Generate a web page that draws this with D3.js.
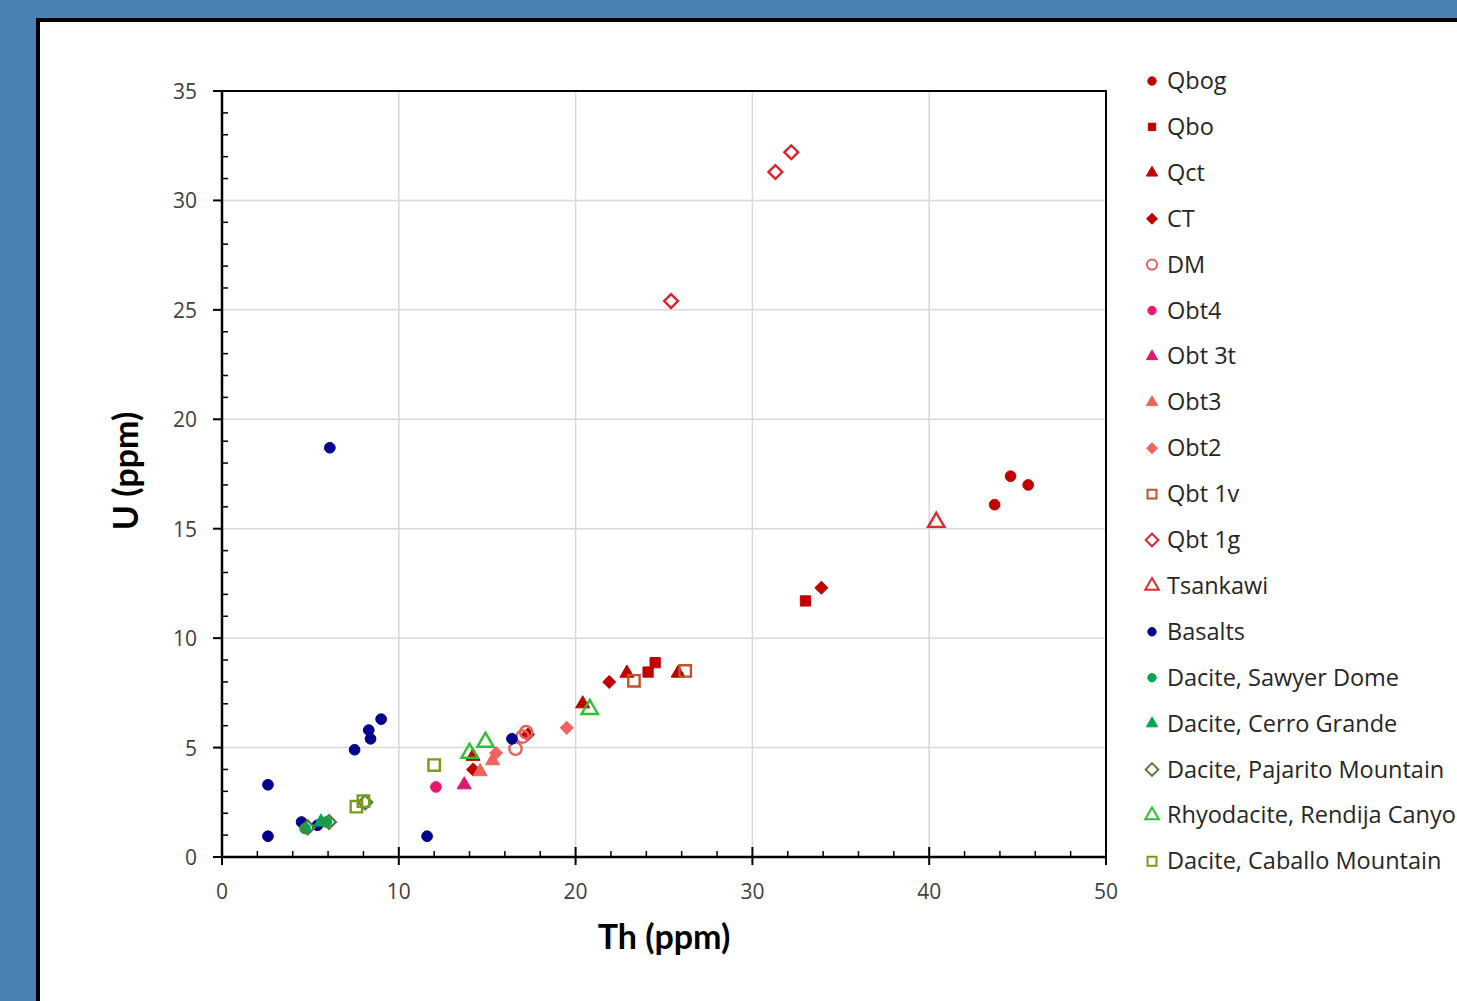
<!DOCTYPE html>
<html>
<head>
<meta charset="utf-8">
<script src="https://cdn.jsdelivr.net/npm/d3@7"></script>
<style>
  body { margin: 0; background: #4a82b3; overflow: hidden; }
  #container { position: absolute; left: 0; top: 0; }
  text { font-family: "Open Sans", Lato, sans-serif; }
</style>
</head>
<body>
<div id="container"></div>
<script>
// values: [Th, U]
var qbog = [[43.7, 16.1], [44.6, 17.4], [45.6, 17.0]];
var qbo = [[33.0, 11.7], [24.1, 8.45], [24.5, 8.88]];
var qct = [[20.4, 7.0], [22.9, 8.4], [25.8, 8.4], [14.2, 4.6]];
var ct = [[33.9, 12.3], [21.9, 8.0], [14.2, 4.0], [17.3, 5.6]];
var dm = [[16.6, 4.95], [17.0, 5.5], [17.2, 5.7]];
var obt4 = [[12.1, 3.2]];
var obt3t = [[13.7, 3.3]];
var obt3 = [[14.6, 3.9], [15.3, 4.4]];
var obt2 = [[19.5, 5.9], [15.5, 4.75]];
var qbt1v = [[23.3, 8.05], [26.2, 8.5]];
var qbt1g = [[31.3, 31.3], [32.2, 32.2], [25.4, 25.4]];
var tsankawi = [[40.4, 15.3]];
var basalts = [[6.1, 18.7], [2.6, 3.3], [2.6, 0.95], [9.0, 6.3], [8.3, 5.8], [8.4, 5.4],
  [7.5, 4.9], [11.6, 0.95], [16.4, 5.4], [4.5, 1.6], [5.4, 1.45]];
var sawyer = [[4.7, 1.3], [5.9, 1.6]];
var cerro = [[5.6, 1.6]];
var pajarito = [[4.85, 1.35], [6.05, 1.6], [8.1, 2.5]];
var rendija = [[14.0, 4.75], [14.9, 5.25], [20.8, 6.75]];
var caballo = [[12.0, 4.2], [7.6, 2.3], [8.0, 2.55]];

var seriesNames = ["Qbog", "Qbo", "Qct", "CT", "DM", "Obt4", "Obt 3t", "Obt3", "Obt2",
  "Qbt 1v", "Qbt 1g", "Tsankawi", "Basalts", "Dacite, Sawyer Dome", "Dacite, Cerro Grande",
  "Dacite, Pajarito Mountain", "Rhyodacite, Rendija Canyon", "Dacite, Caballo Mountain"];
var seriesData = [qbog, qbo, qct, ct, dm, obt4, obt3t, obt3, obt2, qbt1v, qbt1g, tsankawi,
  basalts, sawyer, cerro, pajarito, rendija, caballo];

var xTicks = [0, 10, 20, 30, 40, 50];
var yTicks = [0, 5, 10, 15, 20, 25, 30, 35];

// marker styles: shape, colour, filled?
var styles = [
  {shape: "circle", color: "#c00000", fill: true},
  {shape: "square", color: "#c00000", fill: true},
  {shape: "triangle", color: "#c00000", fill: true},
  {shape: "diamond", color: "#c00000", fill: true},
  {shape: "circle", color: "#e4605e", fill: false},
  {shape: "circle", color: "#e8176f", fill: true},
  {shape: "triangle", color: "#e2186c", fill: true},
  {shape: "triangle", color: "#f0625c", fill: true},
  {shape: "diamond", color: "#f0625c", fill: true},
  {shape: "square", color: "#c0532a", fill: false},
  {shape: "diamond", color: "#e0202c", fill: false},
  {shape: "triangle", color: "#e02a30", fill: false},
  {shape: "circle", color: "#00008c", fill: true},
  {shape: "circle", color: "#00a651", fill: true},
  {shape: "triangle", color: "#00a651", fill: true},
  {shape: "diamond", color: "#55803a", fill: false},
  {shape: "triangle", color: "#2cc42c", fill: false},
  {shape: "square", color: "#7a9a1e", fill: false}
];

var W = 1457, H = 1001;
var margin = {top: 91, left: 222};
var width = 884, height = 766;

var svg = d3.select("#container").append("svg")
  .attr("width", W)
  .attr("height", H);

// white panel with black frame
svg.append("rect")
  .attr("x", 38).attr("y", 20)
  .attr("width", W + 20).attr("height", H + 20)
  .style("fill", "#fff")
  .style("stroke", "#000")
  .style("stroke-width", 4);

var g = svg.append("g")
  .attr("transform", "translate(" + margin.left + "," + margin.top + ")");

var x = d3.scaleLinear().domain([0, 50]).range([0, width]);
var y = d3.scaleLinear().domain([0, 35]).range([height, 0]);

// gridlines
g.selectAll(".vgrid").data(xTicks.slice(1, -1)).enter()
  .append("line")
  .attr("class", "vgrid")
  .attr("x1", d => x(d)).attr("x2", d => x(d))
  .attr("y1", 0).attr("y2", height)
  .style("stroke", "#d9d9d9").style("stroke-width", 1.5);
g.selectAll(".hgrid").data(yTicks.slice(1, -1)).enter()
  .append("line")
  .attr("class", "hgrid")
  .attr("y1", d => y(d)).attr("y2", d => y(d))
  .attr("x1", 0).attr("x2", width)
  .style("stroke", "#d9d9d9").style("stroke-width", 1.5);

// minor ticks (inside)
var xMinor = d3.range(0, 50.01, 2).filter(d => d % 10 !== 0);
var yMinor = d3.range(0, 35.01, 1).filter(d => d % 5 !== 0);
g.selectAll(".xminor").data(xMinor).enter()
  .append("line")
  .attr("x1", d => x(d)).attr("x2", d => x(d))
  .attr("y1", height).attr("y2", height - 6)
  .style("stroke", "#000").style("stroke-width", 1.5);
g.selectAll(".yminor").data(yMinor).enter()
  .append("line")
  .attr("y1", d => y(d)).attr("y2", d => y(d))
  .attr("x1", 0).attr("x2", 6)
  .style("stroke", "#000").style("stroke-width", 1.5);

// major ticks
g.selectAll(".xmajor").data(xTicks).enter()
  .append("line")
  .attr("x1", d => x(d)).attr("x2", d => x(d))
  .attr("y1", height - 10).attr("y2", height + 8)
  .style("stroke", "#000").style("stroke-width", 2);
g.selectAll(".ymajor").data(yTicks).enter()
  .append("line")
  .attr("y1", d => y(d)).attr("y2", d => y(d))
  .attr("x1", -9).attr("x2", 0)
  .style("stroke", "#000").style("stroke-width", 2);

// plot box
g.append("path")
  .attr("d", "M" + x(0) + "," + y(35) + "H" + x(50) + "V" + y(0))
  .style("fill", "none").style("stroke", "#000").style("stroke-width", 2);
g.append("line")
  .attr("x1", 0).attr("x2", 0).attr("y1", 0).attr("y2", height)
  .style("stroke", "#000").style("stroke-width", 2.5);
g.append("line")
  .attr("x1", 0).attr("x2", width).attr("y1", height).attr("y2", height)
  .style("stroke", "#000").style("stroke-width", 2.5);

// tick labels
g.selectAll(".xlab").data(xTicks).enter()
  .append("text")
  .attr("x", d => x(d)).attr("y", height + 42)
  .style("text-anchor", "middle")
  .style("font-size", "21px").style("fill", "#404040")
  .text(d => d);
g.selectAll(".ylab").data(yTicks).enter()
  .append("text")
  .attr("x", -25).attr("y", d => y(d) + 8)
  .style("text-anchor", "end")
  .style("font-size", "21px").style("fill", "#404040")
  .text(d => d);

// axis titles
g.append("text")
  .attr("x", width / 2).attr("y", height + 92)
  .style("text-anchor", "middle")
  .style("font-family", "Lato, sans-serif")
  .style("font-size", "34px").style("font-weight", "bold").style("fill", "#000")
  .text("Th (ppm)");
g.append("text")
  .attr("transform", "rotate(-90)")
  .attr("x", -380).attr("y", -84)
  .style("text-anchor", "middle")
  .style("font-family", "Lato, sans-serif")
  .style("font-size", "34px").style("font-weight", "bold").style("fill", "#000")
  .text("U (ppm)");

function symbolPath(shape, s) {
  var type = shape === "circle" ? d3.symbolCircle
    : shape === "triangle" ? d3.symbolTriangle : d3.symbolSquare;
  return d3.symbol().type(type).size(s)();
}
function markerSize(st) {
  if (st.shape === "circle") return st.fill ? 90 : 120;
  if (st.shape === "square") return st.fill ? 105 : 130;
  if (st.shape === "triangle") return st.fill ? 85 : 115;
  return st.fill ? 80 : 95;
}

// points
seriesData.forEach(function(pts, i) {
  var st = styles[i];
  g.selectAll(".pt" + i).data(pts).enter()
    .append("path")
    .attr("class", "pt" + i)
    .attr("d", symbolPath(st.shape, markerSize(st)))
    .attr("transform", d => "translate(" + x(d[0]) + "," + y(d[1]) + ")" +
      (st.shape === "diamond" ? " rotate(45)" : ""))
    .style("fill", st.fill ? st.color : "none")
    .style("stroke", st.color)
    .style("stroke-width", st.fill ? 1 : 2.4);
});

// legend
var legend = svg.append("g").attr("transform", "translate(1152,81)");
var items = legend.selectAll(".item").data(seriesNames).enter()
  .append("g")
  .attr("transform", (d, i) => "translate(0," + (i * 45.9) + ")");
items.append("path")
  .attr("d", (d, i) => symbolPath(styles[i].shape, styles[i].fill ? 55 : 80))
  .attr("transform", (d, i) => styles[i].shape === "diamond" ? "rotate(45)" : null)
  .style("fill", (d, i) => styles[i].fill ? styles[i].color : "none")
  .style("stroke", (d, i) => styles[i].color)
  .style("stroke-width", (d, i) => styles[i].fill ? 1 : 2);
items.append("text")
  .attr("x", 15).attr("y", 8)
  .style("font-size", "23.5px").style("fill", "#262626")
  .text(d => d);
</script>
</body>
</html>
